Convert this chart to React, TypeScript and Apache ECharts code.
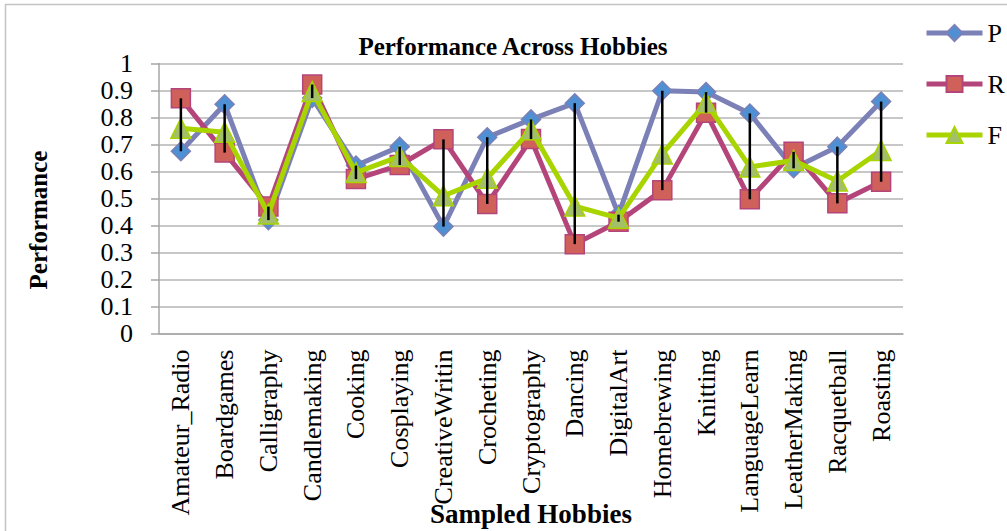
import React, { useEffect, useRef } from "react";
import * as echarts from "echarts";

const categories = [
  "Amateur_Radio", "Boardgames", "Calligraphy", "Candlemaking", "Cooking", "Cosplaying",
  "CreativeWritin", "Crocheting", "Cryptography", "Dancing", "DigitalArt", "Homebrewing",
  "Knitting", "LanguageLearn", "LeatherMaking", "Racquetball", "Roasting",
];
const seriesP = [0.675, 0.849, 0.42, 0.872, 0.622, 0.692, 0.396, 0.727, 0.793, 0.853, 0.44, 0.899, 0.894, 0.815, 0.612, 0.692, 0.859];
const seriesR = [0.871, 0.67, 0.47, 0.922, 0.572, 0.624, 0.719, 0.48, 0.72, 0.331, 0.414, 0.531, 0.818, 0.497, 0.673, 0.482, 0.562];
const seriesF = [0.76, 0.745, 0.443, 0.896, 0.596, 0.656, 0.51, 0.575, 0.755, 0.472, 0.427, 0.665, 0.855, 0.617, 0.641, 0.565, 0.678];
const yTicks = [0, 0.1, 0.2, 0.3, 0.4, 0.5, 0.6, 0.7, 0.8, 0.9, 1];

const SERIF = "'Liberation Serif', 'Times New Roman', serif";

export default function App() {
  const ref = useRef<HTMLDivElement>(null);
  useEffect(() => {
    document.body.style.margin = "0";
    if (!ref.current) return;
    const chart = echarts.init(ref.current, undefined, { renderer: "svg" });
    const hiLo = categories.map((_, i) => {
      const vals = [seriesP[i], seriesR[i], seriesF[i]];
      return [i, Math.min(...vals), Math.max(...vals)];
    });
    chart.setOption({
      animation: false,
      backgroundColor: "#ffffff",
      grid: { left: 159, right: 104, top: 63.5, bottom: 197.5, containLabel: false },
      legend: {
        orient: "vertical",
        left: 919,
        top: 15,
        itemWidth: 56,
        itemHeight: 20,
        itemGap: 25,
        lineStyle: { width: 5 },
        textStyle: { fontFamily: SERIF, fontSize: 26, color: "#000" },
        data: ["P", "R", "F"],
      },
      xAxis: {
        type: "category",
        data: categories,
        boundaryGap: true,
        axisLine: { lineStyle: { color: "#a6a6a6", width: 1.5 } },
        axisTick: { show: false },
        axisLabel: {
          rotate: 90,
          margin: 16,
          interval: 0,
          fontFamily: SERIF,
          fontSize: 26,
          color: "#000",
        },
      },
      yAxis: {
        type: "value",
        min: 0,
        max: 1,
        interval: 0.1,
        axisLine: { show: true, lineStyle: { color: "#a6a6a6", width: 1.5 } },
        axisTick: { show: true, length: 8, lineStyle: { color: "#a6a6a6", width: 1.5 } },
        splitLine: { lineStyle: { color: "#b4b4b4", width: 1.5 } },
        axisLabel: {
          margin: 26,
          fontFamily: SERIF,
          fontSize: 26,
          color: "#000",
          formatter: (v: number) => {
            const t = yTicks.find((x) => Math.abs(x - v) < 1e-6);
            return t === undefined ? "" : String(Math.round(t * 10) / 10);
          },
        },
      },
      series: [
        {
          name: "P",
          type: "line",
          data: seriesP,
          symbol: "diamond",
          symbolSize: 19,
          lineStyle: { color: "#7b80b6", width: 5 },
          itemStyle: { color: "#4f8fd3", borderColor: "#7b80b6", borderWidth: 1.5 },
          z: 2,
        },
        {
          name: "R",
          type: "line",
          data: seriesR,
          symbol: "rect",
          symbolSize: 19,
          lineStyle: { color: "#b4457a", width: 5 },
          itemStyle: { color: "#d0605a", borderColor: "#b4457a", borderWidth: 1.5 },
          z: 3,
        },
        {
          name: "F",
          type: "line",
          data: seriesF,
          symbol: "triangle",
          symbolSize: 20,
          lineStyle: { color: "#a8d400", width: 5 },
          itemStyle: { color: "#a3bf6a", borderColor: "#a8d400", borderWidth: 1.5 },
          z: 4,
        },
        {
          name: "hilo",
          type: "custom",
          data: hiLo,
          z: 10,
          silent: true,
          renderItem: (params: any, api: any) => {
            const lo = api.coord([api.value(0), api.value(1)]);
            const hi = api.coord([api.value(0), api.value(2)]);
            return {
              type: "line",
              shape: { x1: lo[0], y1: lo[1], x2: hi[0], y2: hi[1] },
              style: { stroke: "#000", lineWidth: 2.5 },
            };
          },
        },
      ],
      graphic: [
        {
          type: "rect",
          shape: { x: 5.5, y: 4.5, width: 1010, height: 540 },
          style: { fill: "none", stroke: "#c4c4c4", lineWidth: 1.5 },
          silent: true,
        },
        {
          type: "text",
          x: 513,
          y: 46,
          style: {
            text: "Performance Across Hobbies",
            fontFamily: SERIF,
            fontWeight: "bold",
            fontSize: 25,
            fill: "#000",
            align: "center",
            verticalAlign: "middle",
          },
        },
        {
          type: "text",
          x: 38,
          y: 220,
          rotation: Math.PI / 2,
          style: {
            text: "Performance",
            fontFamily: SERIF,
            fontWeight: "bold",
            fontSize: 25,
            fill: "#000",
            align: "center",
            verticalAlign: "middle",
          },
        },
        {
          type: "text",
          x: 531,
          y: 514,
          z: 20,
          style: {
            text: "Sampled Hobbies",
            fontFamily: SERIF,
            fontWeight: "bold",
            fontSize: 27,
            fill: "#000",
            align: "center",
            verticalAlign: "middle",
          },
        },
      ],
    });
    return () => chart.dispose();
  }, []);
  return <div ref={ref} style={{ width: 1007, height: 531 }} />;
}
